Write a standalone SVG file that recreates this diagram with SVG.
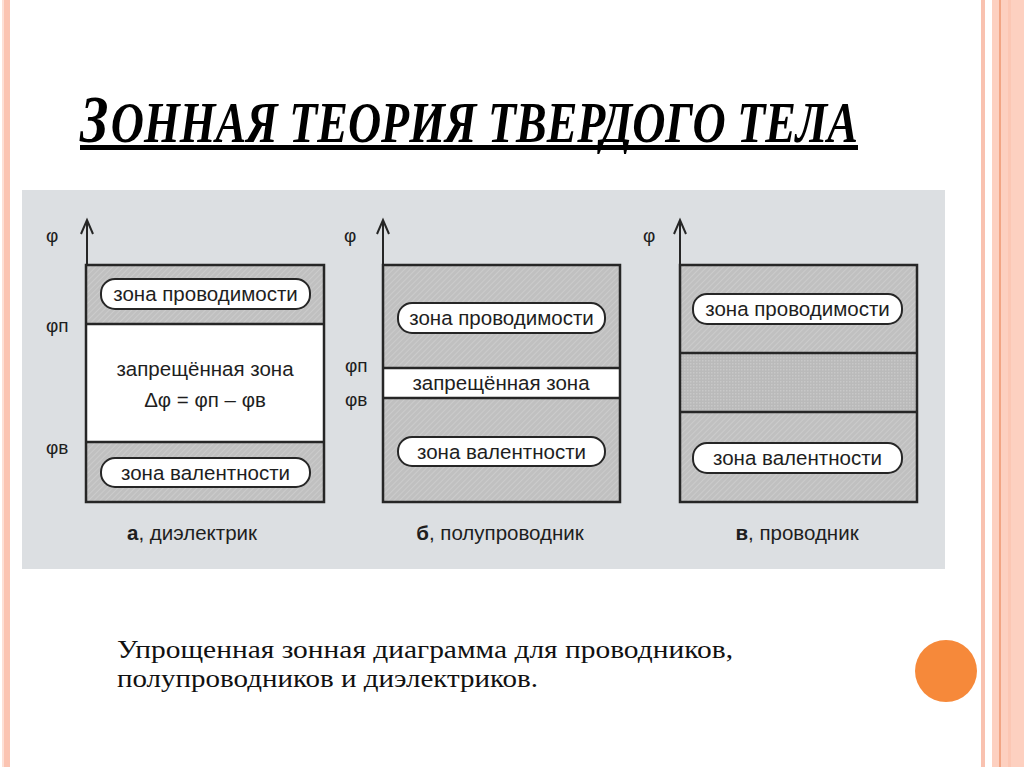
<svg xmlns="http://www.w3.org/2000/svg" width="1024" height="767" viewBox="0 0 1024 767">
<style>
.box{stroke:#262626;stroke-width:2.5;fill:none}
.sep{stroke:#262626;stroke-width:2.5}
.pill{fill:#ffffff;stroke:#262626;stroke-width:2}
.t{font-family:"Liberation Sans",Arial,sans-serif;font-size:20.5px;fill:#1e1e1e;text-anchor:middle}
.lbl{font-family:"Liberation Sans",Arial,sans-serif;font-size:19px;fill:#1e1e1e}
.cap{font-family:"Liberation Sans",Arial,sans-serif;font-size:20.5px;fill:#1e1e1e;text-anchor:middle}
.axis{stroke:#262626;stroke-width:2;fill:none}
.body{font-family:"Liberation Serif","Times New Roman",serif;font-size:25px;fill:#111}
</style>
<defs>
<pattern id="hatch" patternUnits="userSpaceOnUse" width="4" height="4" patternTransform="rotate(45)">
<rect width="4" height="4" fill="#c0c0c0"/>
<line x1="0" y1="0" x2="0" y2="4" stroke="#cfcfcf" stroke-width="1.5"/>
</pattern>
<pattern id="dots" patternUnits="userSpaceOnUse" width="3" height="3">
<rect width="3" height="3" fill="#bababa"/>
<rect width="1.5" height="1.5" fill="#c8c8c8"/>
</pattern>
</defs>
<rect width="1024" height="767" fill="#ffffff"/>
<g id="frame">
<rect x="2" y="0" width="2" height="767" fill="#fde0d6"/>
<rect x="4" y="0" width="6" height="767" fill="#fbc4b2"/>
<rect x="981" y="0" width="4" height="767" fill="#f9c2b0"/>
<rect x="992" y="0" width="32" height="767" fill="#fdd0c0"/>
<rect x="999" y="0" width="2" height="767" fill="#f2a584"/>
<rect x="1008" y="0" width="3" height="767" fill="#fcc7b4"/>
</g>
<g id="title">
<text x="80" y="142" font-family="Liberation Serif,'Times New Roman',serif" font-weight="bold" font-style="italic" fill="#000" textLength="778" lengthAdjust="spacingAndGlyphs"><tspan font-size="68">З</tspan><tspan font-size="56" dx="3">ОННАЯ ТЕОРИЯ ТВЕРДОГО ТЕЛА</tspan></text>
<rect x="80" y="145" width="778" height="5" fill="#000"/>
</g>
<rect id="panel" x="22" y="190" width="923" height="379" fill="#dcdfe2"/>
<g id="diagram-a">
<rect x="86" y="265" width="238" height="59" fill="url(#hatch)"/>
<rect x="86" y="324" width="238" height="118" fill="#ffffff"/>
<rect x="86" y="442" width="238" height="60" fill="url(#hatch)"/>
<rect class="box" x="86" y="265" width="238" height="237"/>
<line class="sep" x1="86" y1="324" x2="324" y2="324"/>
<line class="sep" x1="86" y1="442" x2="324" y2="442"/>
<path class="axis" d="M87 265 V220 M81 234 L87 220 L93 234"/>
<rect class="pill" x="101" y="279" width="209" height="30" rx="14"/>
<text class="t" x="205.5" y="301">зона проводимости</text>
<text class="t" x="205" y="376">запрещённая зона</text>
<text class="t" x="205" y="407">Δφ = φп – φв</text>
<rect class="pill" x="101" y="458" width="209" height="29" rx="14"/>
<text class="t" x="205.5" y="480">зона валентности</text>
<text class="lbl" x="46" y="242">φ</text>
<text class="lbl" x="46" y="332">φп</text>
<text class="lbl" x="46" y="454">φв</text>
<text class="cap" x="192" y="540"><tspan font-weight="bold">а</tspan>, диэлектрик</text>
</g>
<g id="diagram-b">
<rect x="383" y="265" width="237" height="103" fill="url(#hatch)"/>
<rect x="383" y="368" width="237" height="30" fill="#ffffff"/>
<rect x="383" y="398" width="237" height="104" fill="url(#hatch)"/>
<rect class="box" x="383" y="265" width="237" height="237"/>
<line class="sep" x1="383" y1="368" x2="620" y2="368"/>
<line class="sep" x1="383" y1="398" x2="620" y2="398"/>
<path class="axis" d="M383 265 V220 M377 234 L383 220 L389 234"/>
<rect class="pill" x="398" y="303" width="207" height="30" rx="14"/>
<text class="t" x="501.5" y="325">зона проводимости</text>
<text class="t" x="501" y="390">запрещённая зона</text>
<rect class="pill" x="398" y="437" width="207" height="29" rx="14"/>
<text class="t" x="501.5" y="459">зона валентности</text>
<text class="lbl" x="344" y="242">φ</text>
<text class="lbl" x="345" y="372">φп</text>
<text class="lbl" x="345" y="406">φв</text>
<text class="cap" x="500" y="540"><tspan font-weight="bold">б</tspan>, полупроводник</text>
</g>
<g id="diagram-c">
<rect x="680" y="265" width="237" height="88" fill="url(#hatch)"/>
<rect x="680" y="353" width="237" height="59" fill="url(#dots)"/>
<rect x="680" y="412" width="237" height="90" fill="url(#hatch)"/>
<rect class="box" x="680" y="265" width="237" height="237"/>
<line class="sep" x1="680" y1="353" x2="917" y2="353"/>
<line class="sep" x1="680" y1="412" x2="917" y2="412"/>
<path class="axis" d="M680 265 V220 M674 234 L680 220 L686 234"/>
<rect class="pill" x="693" y="294" width="209" height="30" rx="14"/>
<text class="t" x="797.5" y="316">зона проводимости</text>
<rect class="pill" x="693" y="443" width="209" height="30" rx="14"/>
<text class="t" x="797.5" y="465">зона валентности</text>
<text class="lbl" x="643" y="242">φ</text>
<text class="cap" x="797" y="540"><tspan font-weight="bold">в</tspan>, проводник</text>
</g>
<g id="caption">
<text class="body" x="117" y="658" textLength="616" lengthAdjust="spacingAndGlyphs">Упрощенная зонная диаграмма для проводников,</text>
<text class="body" x="117" y="687" textLength="421" lengthAdjust="spacingAndGlyphs">полупроводников и диэлектриков.</text>
</g>
<circle id="dot" cx="946" cy="671" r="31" fill="#f6893a"/>
</svg>
